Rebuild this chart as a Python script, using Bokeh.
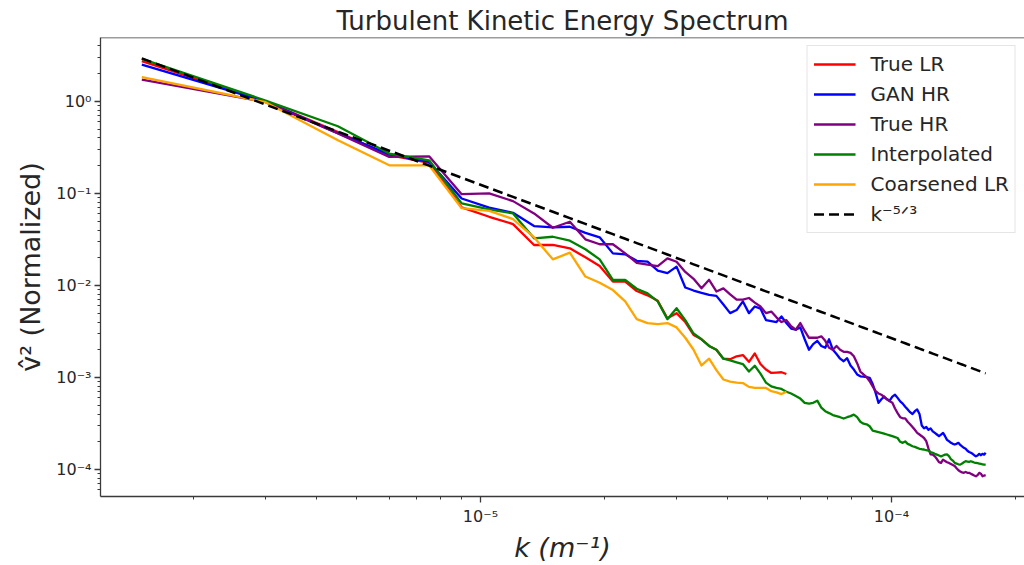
import numpy as np
from bokeh.plotting import figure
from bokeh.models import Legend, LegendItem, CustomJSTickFormatter, Span
from bokeh.embed import file_html
from bokeh.resources import INLINE

# wavenumber spacing of the spectra (m^-1); k = n * DK
DK = 1.5e-6

# ---- spectra (normalised v^2) ----
true_lr = [2.73, 1.0, 0.465, 0.26, 0.215, 0.0704, 0.0557, 0.0464, 0.0275, 0.0275,
           0.0253, 0.0202, 0.0163, 0.0110, 0.0110, 0.0087, 0.0078, 0.0068, 0.0044, 0.0050,
           0.0040, 0.0029, 0.0026, 0.0022, 0.0020, 0.0016, 0.00158, 0.0017, 0.00175, 0.00148,
           0.00182, 0.0014, 0.00122, 0.00112, 0.00113, 0.00114, 0.00109]

gan_hr = [2.50, 1.0, 0.45, 0.265, 0.22, 0.088, 0.070, 0.0616, 0.0442, 0.0428,
          0.0434, 0.0373, 0.0333, 0.0223, 0.0218, 0.0185, 0.0181, 0.0145, 0.0136, 0.0160,
          0.0095, 0.0088, 0.0083, 0.0079, 0.0077, 0.0062, 0.0050, 0.0054, 0.0067, 0.0050,
          0.0059, 0.0056, 0.0042, 0.0041, 0.0040, 0.0046, 0.0039, 0.0034, 0.0033, 0.0035,
          0.0026, 0.0020, 0.0023, 0.0025, 0.0022, 0.0021, 0.0026, 0.0020, 0.0018, 0.0016,
          0.0015, 0.00162, 0.00135, 0.00122, 0.00108, 0.00103, 0.00102, 0.00101, 0.00099, 0.00085,
          0.00068, 0.00053, 0.00058, 0.00062, 0.00058, 0.00056, 0.00062, 0.00065, 0.00060, 0.00055,
          0.00052, 0.00048, 0.00045, 0.00042, 0.00040, 0.00043, 0.00045, 0.00040, 0.00030, 0.00028,
          0.00029, 0.00027, 0.00028, 0.00026, 0.00025, 0.00024, 0.00023, 0.00024, 0.00025, 0.00023,
          0.00021, 0.000203, 0.000195, 0.00019, 0.000187, 0.00019, 0.000195, 0.000185, 0.000178, 0.000172,
          0.000168, 0.00016, 0.000155, 0.000152, 0.000148, 0.000143, 0.000139, 0.000142, 0.000148, 0.000143,
          0.000148, 0.000145, 0.000152]

true_hr = [1.72, 0.98, 0.447, 0.249, 0.253, 0.098, 0.0998, 0.0824, 0.0606, 0.0423,
           0.0492, 0.0317, 0.028, 0.028, 0.0223, 0.0176, 0.0168, 0.0162, 0.0197, 0.0181,
           0.0140, 0.0118, 0.0093, 0.0115, 0.0086, 0.0093, 0.0080, 0.0070, 0.0070, 0.0073,
           0.0065, 0.0059, 0.0050, 0.0052, 0.0045, 0.0040, 0.0042, 0.0036, 0.0033, 0.0039,
           0.0032, 0.0027, 0.0027, 0.0027, 0.0028, 0.0025, 0.0021, 0.0020, 0.0022, 0.0020,
           0.0019, 0.0019, 0.00185, 0.0017, 0.00143, 0.00116, 0.00108, 0.00101, 0.00091, 0.00080,
           0.00071, 0.00067, 0.00065, 0.00061, 0.00058, 0.00055, 0.00053, 0.00046, 0.00041, 0.00037,
           0.00036, 0.00036, 0.00033, 0.00031, 0.00029, 0.00027, 0.00025, 0.00024, 0.00023, 0.00022,
           0.000203, 0.00017, 0.000146, 0.000145, 0.000139, 0.00013, 0.00012, 0.000118, 0.000128, 0.000124,
           0.00012, 0.000118, 0.000115, 0.000112, 0.000109, 0.000103, 0.000098, 0.000095, 0.000093, 0.000092,
           0.000094, 0.000092, 0.000092, 0.00009, 0.000088, 0.000086, 0.0000845, 0.000087, 0.000092, 0.00009,
           0.0000845, 0.000086, 0.000087]

interpolated = [2.90, 1.02, 0.536, 0.271, 0.229, 0.078, 0.067, 0.0606, 0.0325, 0.0338,
                0.0306, 0.0247, 0.0192, 0.0115, 0.0115, 0.0092, 0.0082, 0.0067, 0.0043, 0.00565,
                0.0042, 0.0030, 0.0026, 0.0022, 0.0020, 0.0016, 0.00153, 0.00146, 0.0014, 0.00116,
                0.00134, 0.0011, 0.00088, 0.0008, 0.00077, 0.00075, 0.0007, 0.00067, 0.00063, 0.00059,
                0.00053, 0.00052, 0.00053, 0.00056, 0.00047, 0.00043, 0.00041, 0.00039, 0.00038, 0.00037,
                0.000358, 0.00037, 0.00038, 0.000395, 0.00037, 0.00033, 0.000315, 0.00031, 0.000295, 0.000265,
                0.00026, 0.000255, 0.00025, 0.000245, 0.00024, 0.000235, 0.00023, 0.000225, 0.00022, 0.0002,
                0.000195, 0.000202, 0.00019, 0.000185, 0.000179, 0.000176, 0.000172, 0.000168, 0.000166, 0.000165,
                0.000162, 0.00016, 0.000155, 0.000152, 0.000148, 0.000145, 0.000142, 0.000139, 0.000142, 0.000145,
                0.000146, 0.00014, 0.00013, 0.000125, 0.000118, 0.000116, 0.000114, 0.000113, 0.000116, 0.00012,
                0.000123, 0.000122, 0.000121, 0.000123, 0.000121, 0.000119, 0.000118, 0.000117, 0.000116, 0.000115,
                0.000114, 0.000113, 0.000113]

coarsened_lr = [1.83, 0.98, 0.378, 0.202, 0.202, 0.069, 0.0647, 0.0526, 0.0333, 0.0192,
                0.0227, 0.0125, 0.0107, 0.0089, 0.0067, 0.0043, 0.0039, 0.0038, 0.0039, 0.0035,
                0.0027, 0.0020, 0.00135, 0.0016, 0.0012, 0.00095, 0.00090, 0.00088, 0.00087, 0.00079,
                0.00077, 0.00077, 0.00077, 0.00071, 0.00069, 0.00066, 0.0007]

# amplitude of the k^-5/3 reference line at the first wavenumber
kolmogorov_amp = 2.93

series_names = ["True LR", "GAN HR", "True HR", "Interpolated", "Coarsened LR"]
series_colors = ["red", "blue", "purple", "green", "orange"]
series_values = [true_lr, gan_hr, true_hr, interpolated, coarsened_lr]

TEXT = "#262626"
SPINE = "#3a3a3a"

p = figure(width=1024, height=565, x_axis_type="log", y_axis_type="log",
           x_range=(1.19e-6, 2.107e-4), y_range=(5.09e-5, 4.94),
           output_backend="svg", toolbar_location=None,
           min_border_left=100, min_border_right=0, min_border_top=37, min_border_bottom=68,
           title="Turbulent Kinetic Energy Spectrum")
p.background_fill_color = "white"
p.border_fill_color = "white"
p.outline_line_color = None
p.xgrid.visible = False
p.ygrid.visible = False

p.title.align = "center"
p.title.vertical_align = "top"
p.title.standoff = 0
p.title.text_font = "DejaVu Sans"
p.title.text_font_size = "26px"
p.title.text_font_style = "normal"
p.title.text_color = TEXT

sup_code = """
const e = Math.round(Math.log10(tick));
const m = {"-": "\u207b", "0": "\u2070", "1": "\u00b9", "2": "\u00b2", "3": "\u00b3",
           "4": "\u2074", "5": "\u2075", "6": "\u2076", "7": "\u2077", "8": "\u2078", "9": "\u2079"};
return "10" + String(e).split("").map(c => m[c]).join("");
"""

for ax in (p.xaxis[0], p.yaxis[0]):
    ax.axis_line_color = SPINE
    ax.axis_line_width = 1.3
    ax.major_tick_line_color = SPINE
    ax.major_tick_line_width = 1.3
    ax.major_tick_out = 6
    ax.major_tick_in = 0
    ax.minor_tick_line_color = SPINE
    ax.minor_tick_line_width = 1.0
    ax.minor_tick_out = 3
    ax.minor_tick_in = 0
    ax.major_label_text_font = "DejaVu Sans"
    ax.major_label_text_font_size = "16px"
    ax.major_label_text_color = TEXT
    ax.axis_label_text_font = "DejaVu Sans"
    ax.axis_label_text_font_size = "27px"
    ax.axis_label_text_color = TEXT
    ax.formatter = CustomJSTickFormatter(code=sup_code)

p.xaxis[0].axis_label = "k (m\u207b\u00b9)"
p.xaxis[0].axis_label_text_font_style = "italic"
p.xaxis[0].major_label_standoff = 4
p.xaxis[0].axis_label_standoff = 3
p.yaxis[0].axis_label = "v\u0302\u00b2 (Normalized)"
p.yaxis[0].axis_label_text_font_style = "normal"
p.yaxis[0].major_label_standoff = 3
p.yaxis[0].axis_label_standoff = 7

# top spine
p.add_layout(Span(location=4.94, dimension="width", line_color=SPINE, line_width=1.3))

items = []
for name, color, vals in zip(series_names, series_colors, series_values):
    k = DK * np.arange(1, len(vals) + 1)
    r = p.line(k, vals, line_color=color, line_width=2.3, line_join="round")
    items.append(LegendItem(label=name, renderers=[r]))

k_ref = DK * np.arange(1, len(gan_hr) + 1)
r_ref = p.line(k_ref, kolmogorov_amp * (k_ref / DK) ** (-5.0 / 3.0),
               line_color="black", line_width=2.5, line_dash="10 5")
items.append(LegendItem(label="k\u207b\u2075\u141f\u00b3", renderers=[r_ref]))

legend = Legend(items=items, location="top_right")
legend.label_text_font = "DejaVu Sans"
legend.label_text_font_size = "20px"
legend.label_text_color = TEXT
legend.glyph_width = 42
legend.glyph_height = 24
legend.label_height = 24
legend.label_standoff = 15
legend.spacing = 6
legend.padding = 6
legend.margin = 8
legend.border_line_color = "#cccccc"
legend.border_line_width = 1.3
legend.background_fill_color = "white"
legend.background_fill_alpha = 0.8
p.add_layout(legend)

open("out.html", "w").write(file_html(p, INLINE))
